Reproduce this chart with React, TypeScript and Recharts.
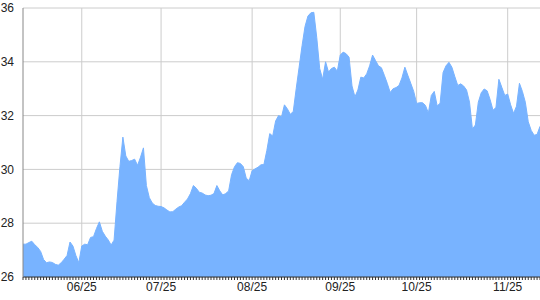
import { Area, AreaChart, CartesianGrid, XAxis, YAxis } from "recharts";

// daily closing values
const prices = [
  27.22, 27.22, 27.28, 27.33, 27.2, 27.1, 26.95, 26.65, 26.53, 26.56,
  26.54, 26.47, 26.44, 26.53, 26.66, 26.8, 27.3, 27.15, 26.8, 26.53,
  27.15, 27.22, 27.2, 27.47, 27.5, 27.8, 28.05, 27.7, 27.52, 27.38,
  27.19, 27.37, 28.8, 30.1, 31.2, 30.5, 30.3, 30.33, 30.38, 30.15,
  30.45, 30.8, 29.4, 28.95, 28.75, 28.66, 28.63, 28.62, 28.57, 28.49,
  28.42, 28.43, 28.52, 28.6, 28.65, 28.78, 28.9, 29.1, 29.4, 29.3,
  29.15, 29.12, 29.05, 29.02, 29.04, 29.1, 29.4, 29.2, 29.05, 29.1,
  29.2, 29.8, 30.1, 30.25, 30.22, 30.1, 29.67, 29.58, 29.95, 30.02,
  30.08, 30.17, 30.18, 30.7, 31.33, 31.24, 31.8, 32.0, 31.95, 32.4,
  32.25, 32.05, 32.15, 33.0, 33.8, 34.6, 35.31, 35.7, 35.82, 35.84,
  34.9, 33.75, 33.35, 34.0, 33.62, 33.75, 33.8, 33.65, 34.25, 34.36,
  34.3, 34.17, 33.1, 32.7, 32.95, 33.43, 33.4, 33.55, 33.85, 34.25,
  34.05, 33.85, 33.78, 33.5, 33.2, 32.86, 33.0, 33.04, 33.12, 33.4,
  33.8, 33.5, 33.2, 32.9, 32.45, 32.48, 32.48, 32.38, 32.1, 32.75,
  32.9, 32.36, 32.46, 33.6, 33.85, 33.98, 33.8, 33.45, 33.12, 33.18,
  33.1, 32.95, 32.5, 31.5, 31.65, 32.5, 32.85, 32.99, 32.92, 32.6,
  32.2, 32.3, 33.35, 33.05, 32.75, 32.8, 32.4, 32.08, 32.35, 33.2,
  32.9, 32.5, 31.77, 31.45, 31.27, 31.3, 31.6,
];

const monthIdx = [20, 47, 78, 108, 134, 165];
const monthLabels = ["06/25", "07/25", "08/25", "09/25", "10/25", "11/25"];
const yTicks = [26, 28, 30, 32, 34, 36];

const rows = prices.map((v, i) => ({ i, v }));
const allTicks = prices.map((_, i) => i);

function DateTick(props: any) {
  const { x, y, payload } = props;
  const k = monthIdx.indexOf(payload.value);
  if (k < 0) return <g />;
  return (
    <text x={x} y={y} dy="0.71em" textAnchor="middle" fill="#222" fontSize={12}>
      {monthLabels[k]}
    </text>
  );
}

// vertical grid only at the month labels
const monthLines = ({ xAxis, offset }: any) => {
  const sc = xAxis && xAxis.scale;
  if (typeof sc === "function") return monthIdx.map((m) => sc(m));
  return monthIdx.map((m) => offset.left + (m / (prices.length - 1)) * offset.width);
};

export default function App() {
  return (
    <div style={{ position: "absolute", left: 0, top: 0, background: "#fff", fontFamily: "'Liberation Sans', Arial, sans-serif" }}>
      <AreaChart width={540} height={300} data={rows} margin={{ top: 8, right: 0, left: 0, bottom: 0 }}>
        <CartesianGrid stroke="#cccccc" verticalCoordinatesGenerator={monthLines} />
        <XAxis
          dataKey="i"
          type="number"
          domain={[0, prices.length - 1]}
          ticks={allTicks}
          interval={0}
          tick={<DateTick />}
          tickSize={3}
          tickMargin={2}
          tickLine={{ stroke: "#333" }}
          axisLine={{ stroke: "#333" }}
          height={23}
        />
        <YAxis
          domain={[26, 36]}
          ticks={yTicks}
          tickLine={false}
          axisLine={{ stroke: "#888" }}
          tick={{ fill: "#222", fontSize: 12 }}
          tickMargin={3}
          width={23}
        />
        <Area
          dataKey="v"
          type="linear"
          stroke="#78b3ff"
          strokeWidth={1}
          fill="#78b3ff"
          fillOpacity={1}
          isAnimationActive={false}
        />
      </AreaChart>
    </div>
  );
}
